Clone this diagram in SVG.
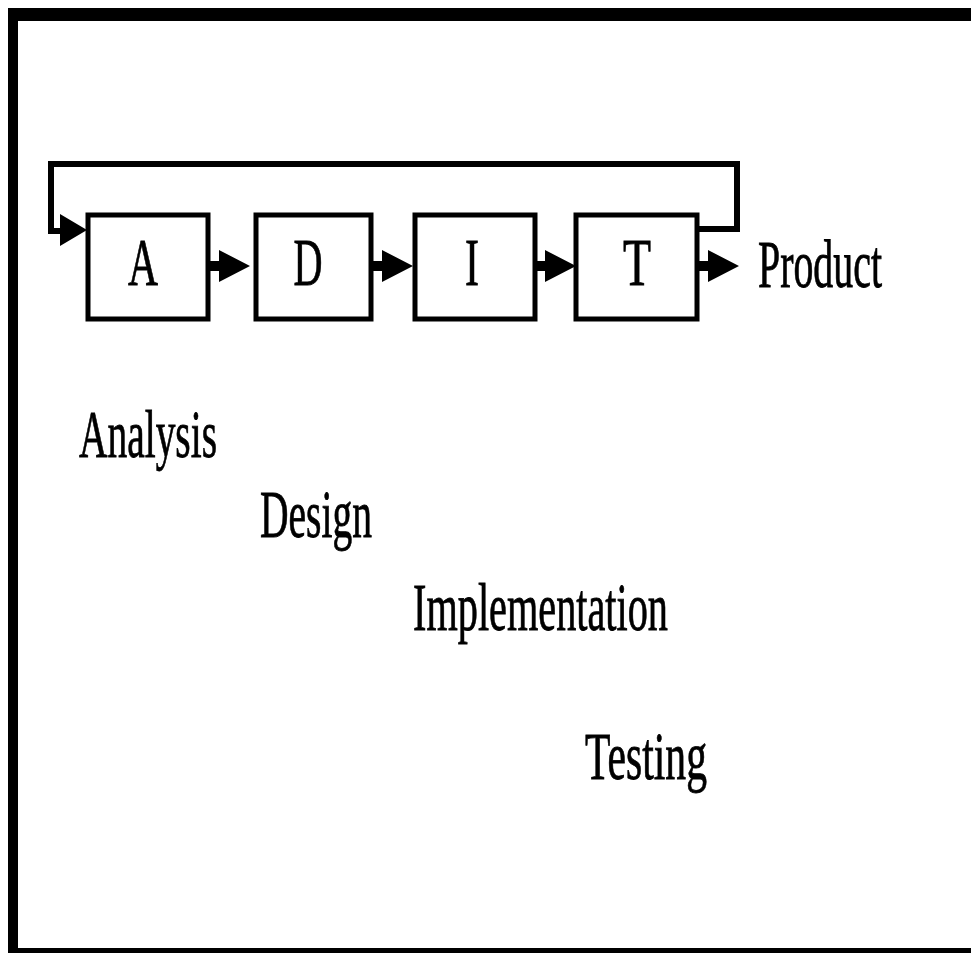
<svg xmlns="http://www.w3.org/2000/svg" width="971" height="953" viewBox="0 0 971 953">
<style>
  .box { fill: #fff; stroke: #000; stroke-width: 5; }
  .lbl { font-family: "Liberation Serif", "Times New Roman", serif; font-size: 68px; fill: #000; stroke: #000; stroke-width: 0.8; }
  .wire { fill: none; stroke: #000; stroke-width: 6; stroke-linejoin: miter; }
  .head { fill: #000; }
</style>
<defs>
  <path id="fwd" d="M0,-5 H9 V-16 L40,0 L9,16 V5 H0 Z"/>
</defs>
<rect width="971" height="953" fill="#fff"/>
<!-- frame -->
<g id="frame" fill="#000">
  <rect x="8" y="8" width="963" height="13"/>
  <rect x="8" y="8" width="10" height="945"/>
  <rect x="8" y="948" width="963" height="5"/>
</g>
<g id="connectors">
  <path class="wire" d="M699,229 H737 V164 H51 V231 H62"/>
  <polygon class="head" points="60,214 87,230 60,246"/>
  <use href="#fwd" class="head" x="210" y="266"/>
  <use href="#fwd" class="head" x="373" y="266"/>
  <use href="#fwd" class="head" x="536" y="266"/>
  <use href="#fwd" class="head" x="699" y="266"/>
</g>
<g id="nodeA">
  <rect class="box" x="88" y="215" width="120" height="104"/>
  <text class="lbl" x="143" y="285" text-anchor="middle" textLength="30" lengthAdjust="spacingAndGlyphs">A</text>
</g>
<g id="nodeD">
  <rect class="box" x="256" y="215" width="115" height="104"/>
  <text class="lbl" x="308" y="285" text-anchor="middle" textLength="29" lengthAdjust="spacingAndGlyphs">D</text>
</g>
<g id="nodeI">
  <rect class="box" x="415" y="215" width="120" height="104"/>
  <text class="lbl" x="472" y="285" text-anchor="middle" textLength="14" lengthAdjust="spacingAndGlyphs">I</text>
</g>
<g id="nodeT">
  <rect class="box" x="576" y="215" width="121" height="104"/>
  <text class="lbl" x="637" y="285" text-anchor="middle" textLength="28" lengthAdjust="spacingAndGlyphs">T</text>
</g>
<g id="product">
  <text class="lbl" x="758" y="287" textLength="124" lengthAdjust="spacingAndGlyphs">Product</text>
</g>
<g id="labels">
  <text class="lbl" x="79" y="457" textLength="138" lengthAdjust="spacingAndGlyphs">Analysis</text>
  <text class="lbl" x="260" y="537" textLength="112" lengthAdjust="spacingAndGlyphs">Design</text>
  <text class="lbl" x="413" y="630" textLength="255" lengthAdjust="spacingAndGlyphs">Implementation</text>
  <text class="lbl" x="585" y="779" textLength="122" lengthAdjust="spacingAndGlyphs">Testing</text>
</g>
</svg>
